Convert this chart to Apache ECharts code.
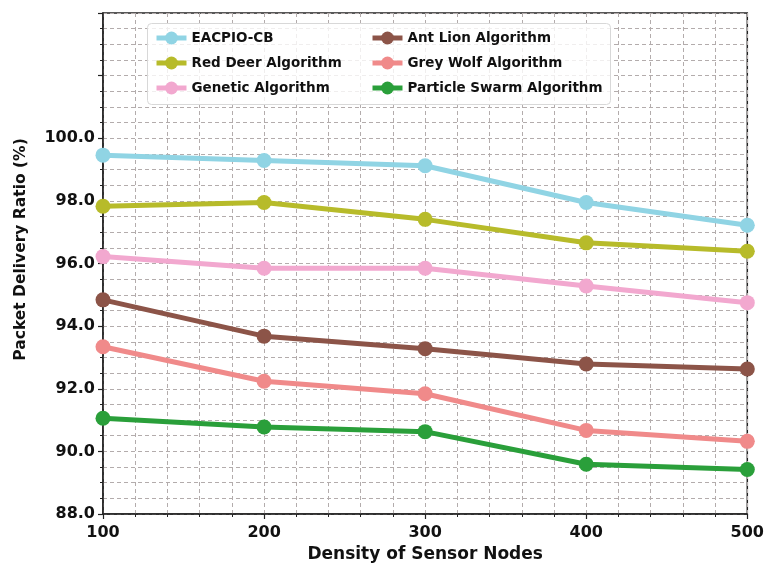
<!DOCTYPE html>
<html>
<head>
<meta charset="utf-8">
<script src="https://cdn.jsdelivr.net/npm/echarts@6/dist/echarts.min.js"></script>
<style>html,body{margin:0;padding:0;background:#fff;}#c{width:767px;height:568px;}</style>
</head>
<body>
<div id="c"></div>
<script>
const xValues = [100, 200, 300, 400, 500];
const seriesNames = ['EACPIO-CB', 'Red Deer Algorithm', 'Genetic Algorithm', 'Ant Lion Algorithm', 'Grey Wolf Algorithm', 'Particle Swarm Algorithm'];
const eacpio = [99.46, 99.29, 99.12, 97.95, 97.22];
const redDeer = [97.83, 97.95, 97.41, 96.66, 96.39];
const genetic = [96.22, 95.85, 95.85, 95.28, 94.75];
const antLion = [94.84, 93.68, 93.28, 92.79, 92.63];
const greyWolf = [93.34, 92.24, 91.84, 90.67, 90.32];
const pso = [91.06, 90.78, 90.63, 89.59, 89.42];
const colors = ['#90d4e4', '#b7bb2a', '#f2a8cf', '#8c5448', '#f08a8a', '#2a9f3a'];
const yTicksLabelMax = 100;

const allData = [eacpio, redDeer, genetic, antLion, greyWolf, pso];
const FONT = 'DejaVu Sans';
const chart = echarts.init(document.getElementById('c'), null, {renderer: 'canvas'});
const series = seriesNames.map((n, i) => ({
  name: n, type: 'line',
  data: xValues.map((x, j) => [x, allData[i][j]]),
  symbol: 'circle', symbolSize: 15,
  lineStyle: {width: 5, color: colors[i]},
  itemStyle: {color: colors[i]},
  z: 10 + i, clip: false
}));
const gridLine = {show: true, lineStyle: {color: '#b3acac', type: [4, 3], width: 1}};
const legendText = {fontFamily: FONT, fontWeight: 'bold', fontSize: 13.5, color: '#111'};
const legendCommon = {orient: 'vertical', top: 26, itemWidth: 30, itemHeight: 16, itemGap: 11,
  textStyle: legendText, z: 20, lineStyle: {width: 5}};
chart.setOption({
  animation: false,
  backgroundColor: '#fff',
  grid: {left: 103, right: 15, top: 13, bottom: 52, show: true, borderColor: '#222', borderWidth: 1.5, backgroundColor: 'transparent'},
  legend: [
    Object.assign({data: seriesNames.slice(0, 3), left: 149}, legendCommon),
    Object.assign({data: seriesNames.slice(3), left: 365}, legendCommon)
  ],
  graphic: [{type: 'rect', left: 147, top: 23, z: 1, zlevel: 0, shape: {width: 463, height: 81, r: 4},
    style: {fill: 'rgba(255,255,255,0.8)', stroke: '#d8d8d8', lineWidth: 1}}],
  xAxis: {
    type: 'value', min: 100, max: 500, interval: 100,
    name: 'Density of Sensor Nodes', nameLocation: 'middle', nameGap: 32,
    nameTextStyle: {fontFamily: FONT, fontWeight: 'bold', fontSize: 17, color: '#111'},
    axisLine: {show: true, lineStyle: {color: '#222', width: 1.5}},
    axisTick: {show: true, length: 5, lineStyle: {color: '#222', width: 1.2}},
    minorTick: {show: true, splitNumber: 5, length: 3, lineStyle: {color: '#222'}},
    axisLabel: {fontFamily: FONT, fontWeight: 'bold', fontSize: 16, color: '#111', margin: 11},
    splitLine: gridLine, minorSplitLine: gridLine
  },
  yAxis: {
    type: 'value', min: 88, max: 104, interval: 2,
    name: 'Packet Delivery Ratio (%)', nameLocation: 'middle', nameGap: 74,
    nameTextStyle: {fontFamily: FONT, fontWeight: 'bold', fontSize: 15.5, color: '#111', padding: [0, 0, 0, 28]},
    axisLine: {show: true, lineStyle: {color: '#222', width: 1.5}},
    axisTick: {show: true, length: 5, lineStyle: {color: '#222', width: 1.2}},
    minorTick: {show: true, splitNumber: 4, length: 3, lineStyle: {color: '#222'}},
    axisLabel: {fontFamily: FONT, fontWeight: 'bold', fontSize: 16, color: '#111', margin: 8,
      formatter: v => v <= yTicksLabelMax ? v.toFixed(1) : ''},
    splitLine: gridLine, minorSplitLine: gridLine
  },
  series: series
});
</script>
</body>
</html>
